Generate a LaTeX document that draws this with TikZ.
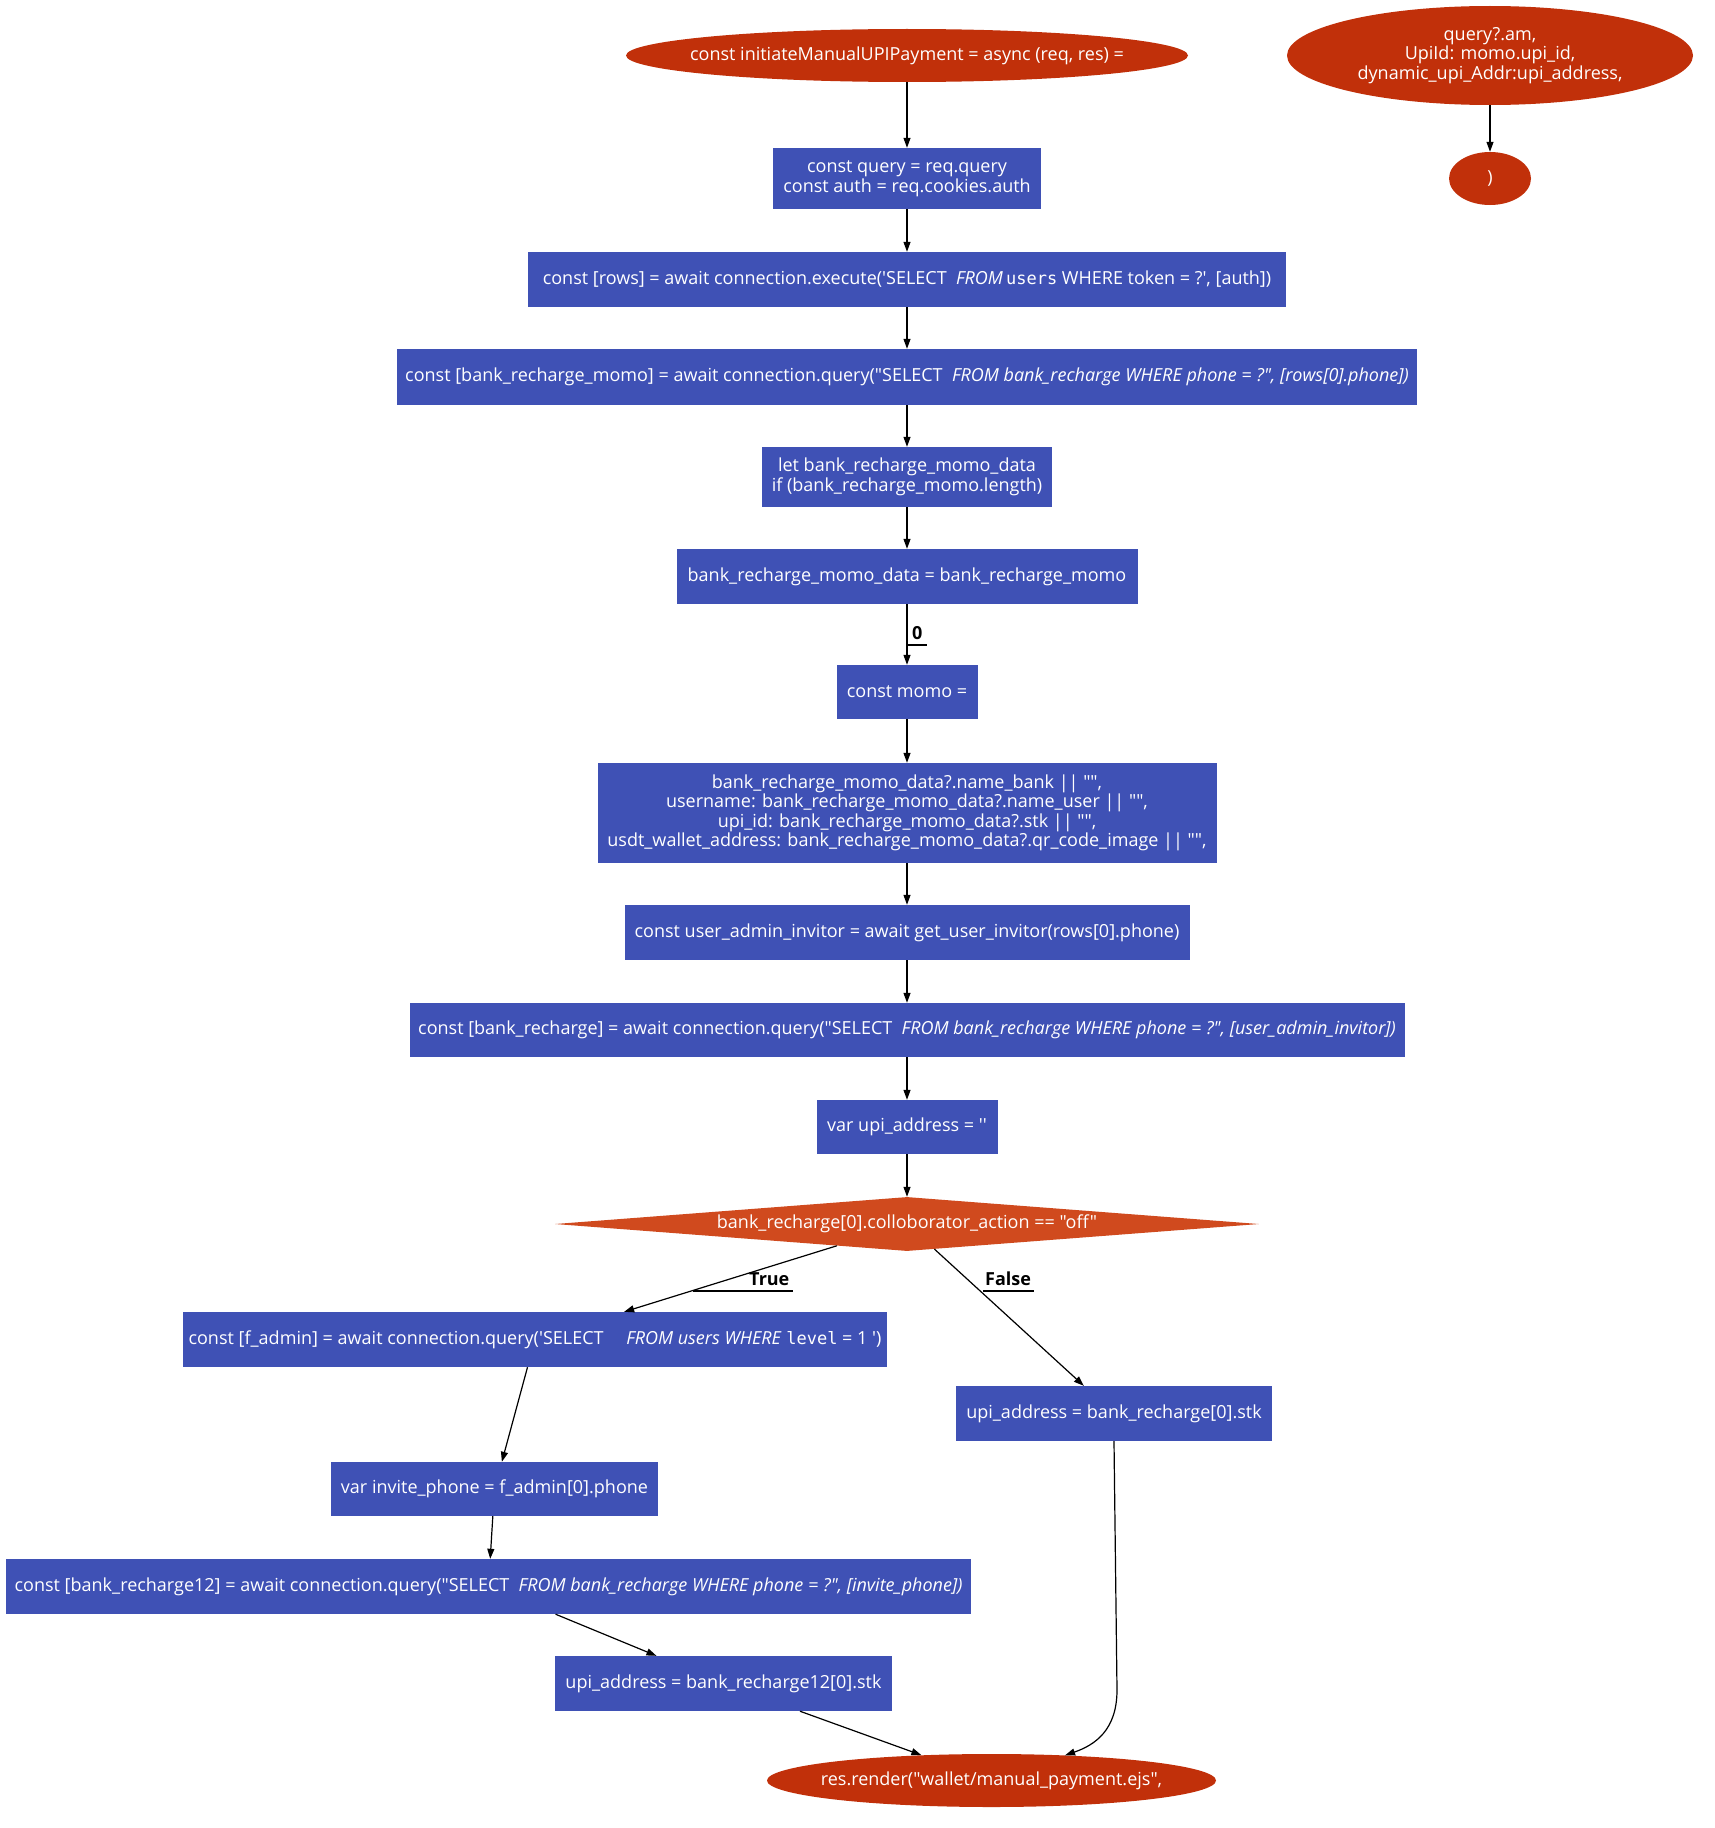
\documentclass[tikz,border=0pt]{standalone}
\usepackage{fontspec}
\newfontfamily\osans{Open Sans}
\newfontfamily\omono{DejaVu Sans Mono}
\usetikzlibrary{shapes.geometric,arrows.meta}
\definecolor{boxblue}{HTML}{3F51B5}
\definecolor{ellred}{HTML}{C1300A}
\definecolor{diared}{HTML}{D04A1E}
\newcommand\mono[1]{{\omono\fontsize{17}{19.5}\selectfont #1}}
\begin{document}
\begin{tikzpicture}[x=1pt,y=-1pt,
 every node/.style={font=\osans\fontsize{18}{19.5}\selectfont, text=white, inner sep=0pt},
 box/.style={rectangle, fill=boxblue, align=center},
 ell/.style={ellipse, fill=ellred, align=center, inner xsep=-60pt, inner ysep=-8pt},
 dia/.style={diamond, fill=diared, align=center, aspect=13},
 arr/.style={draw=black, line width=1.2pt, -{Triangle[length=10pt,width=7pt]}},
 lbl/.style={text=black, font=\osans\fontsize{18}{19.5}\selectfont\bfseries},
 uline/.style={draw=black, line width=1.2pt}]

\useasboundingbox (0,0) rectangle (1714,1828);

\node[ell, minimum width=562, minimum height=53] (start) at (907,55.5) {const initiateManualUPIPayment = async (req, res) =};
\node[ell, minimum width=406, minimum height=99] (tr) at (1490,55.5) {query?.am,\\UpiId: momo.upi\_id,\\dynamic\_upi\_Addr:upi\_address,};
\node[ell, minimum width=82, minimum height=53, inner xsep=0pt, inner ysep=0pt] (close) at (1490,178.5) {)};

\node[box, minimum width=268, minimum height=61] (b1) at (907,178.5) {const query = req.query\\const auth = req.cookies.auth};
\node[box, minimum width=758, minimum height=55] (b2) at (907,279.5) {const [rows] = await connection.execute('SELECT \ \textit{FROM}\,\mono{users} WHERE token = ?', [auth])};
\node[box, minimum width=1020, minimum height=56] (b3) at (907,377) {const [bank\_recharge\_momo] = await connection.query("SELECT \ \textit{FROM bank\_recharge WHERE phone = ?", [rows[0].phone])}};
\node[box, minimum width=290, minimum height=60] (b4) at (907,477) {let bank\_recharge\_momo\_data\\if (bank\_recharge\_momo.length)};
\node[box, minimum width=461, minimum height=55] (b5) at (907,576.5) {bank\_recharge\_momo\_data = bank\_recharge\_momo};
\node[box, minimum width=141, minimum height=54] (b6) at (907,692) {const momo =};
\node[box, minimum width=619, minimum height=100] (b7) at (907,813) {bank\_recharge\_momo\_data?.name\_bank || "",\\username: bank\_recharge\_momo\_data?.name\_user || "",\\upi\_id: bank\_recharge\_momo\_data?.stk || "",\\usdt\_wallet\_address: bank\_recharge\_momo\_data?.qr\_code\_image || "",};
\node[box, minimum width=565, minimum height=55] (b8) at (907,932.5) {const user\_admin\_invitor = await get\_user\_invitor(rows[0].phone)};
\node[box, minimum width=995, minimum height=54] (b9) at (907,1030) {const [bank\_recharge] = await connection.query("SELECT \ \textit{FROM bank\_recharge WHERE phone = ?", [user\_admin\_invitor])}};
\node[box, minimum width=181, minimum height=54] (b10) at (907,1127) {var upi\_address = ''};
\node[dia, minimum width=704, minimum height=54] (cond) at (907,1224) {bank\_recharge[0].colloborator\_action == "off"};

\node[box, minimum width=704, minimum height=55] (fadmin) at (535,1339.5) {const [f\_admin] = await connection.query('SELECT \quad\textit{FROM users WHERE} \mono{level} = 1 ')};
\node[box, minimum width=316, minimum height=55] (fbox) at (1114,1413.5) {upi\_address = bank\_recharge[0].stk};
\node[box, minimum width=327, minimum height=54] (inv) at (494.5,1489) {var invite\_phone = f\_admin[0].phone};
\node[box, minimum width=965, minimum height=55] (b12) at (488.5,1586.5) {const [bank\_recharge12] = await connection.query("SELECT \ \textit{FROM bank\_recharge WHERE phone = ?", [invite\_phone])}};
\node[box, minimum width=337, minimum height=55] (u12) at (723.5,1683.5) {upi\_address = bank\_recharge12[0].stk};
\node[ell, minimum width=449, minimum height=53] (render) at (991.5,1780.5) {res.render("wallet/manual\_payment.ejs",};

\draw[arr] (start) -- (b1);
\draw[arr] (tr) -- (close);
\draw[arr] (b1) -- (b2);
\draw[arr] (b2) -- (b3);
\draw[arr] (b3) -- (b4);
\draw[arr] (b4) -- (b5);
\draw[arr] (b5) -- (b6);
\draw[arr] (b6) -- (b7);
\draw[arr] (b7) -- (b8);
\draw[arr] (b8) -- (b9);
\draw[arr] (b9) -- (b10);
\draw[arr] (b10) -- (cond);
\draw[arr] (cond) -- (fadmin);
\draw[arr] (cond) -- (fbox);
\draw[arr] (fadmin) -- (inv);
\draw[arr] (inv) -- (b12);
\draw[arr] (b12) -- (u12);
\draw[arr] (u12) -- (render);
\draw[arr] (fbox.south) -- (1117,1690) .. controls (1117,1730) and (1095,1745) .. (render);

\node[lbl, anchor=base west] (l0) at (912,639) {0};
\draw[uline] (907,645) -- (927,645);
\node[lbl, anchor=base west] (lt) at (749,1285) {True};
\draw[uline] (693,1291) -- (793,1291);
\node[lbl, anchor=base west] (lf) at (985,1285) {False};
\draw[uline] (983,1291) -- (1034,1291);
\end{tikzpicture}
\end{document}
